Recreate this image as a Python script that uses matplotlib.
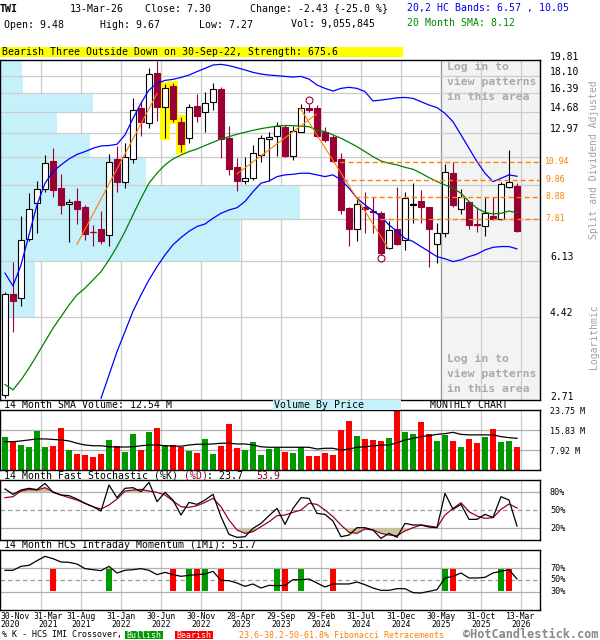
import numpy as np
import matplotlib
matplotlib.use("Agg")
import matplotlib.pyplot as plt
from matplotlib import transforms
from matplotlib.patches import Rectangle

plt.rcParams["font.family"] = ["DejaVu Sans Mono"]

# ---------------- monthly OHLC (Nov 2020 .. Mar 2026) ----------------
opens = [2.79, 5.06, 4.92, 6.95, 8.59, 9.31, 10.99, 9.37, 8.53, 8.70,
         8.40, 7.27, 7.36, 7.13, 11.13, 9.74, 11.10, 14.96, 13.75, 18.42,
         15.05, 17.06, 13.83, 12.55, 15.17, 14.61, 15.49, 16.74, 12.55, 10.59,
         9.79, 9.93, 11.38, 12.48, 12.74, 13.43, 11.31, 13.05, 14.96, 15.02,
         13.00, 12.67, 11.10, 8.36, 7.37, 8.41, 8.21, 8.11, 6.62, 7.39,
         6.93, 8.50, 8.67, 8.38, 6.75, 7.23, 10.23, 8.28, 8.62, 7.59,
         7.50, 7.97, 7.83, 9.46, 9.48]
highs = [5.10, 6.10, 7.95, 9.10, 9.80, 11.38, 11.84, 10.17, 8.81, 9.37,
         8.50, 7.56, 8.21, 11.47, 12.03, 12.22, 15.93, 15.64, 18.90, 19.73,
         17.20, 17.30, 14.25, 15.31, 16.24, 16.50, 17.30, 16.94, 13.50, 11.16,
         11.27, 12.07, 12.80, 13.00, 13.83, 13.56, 13.50, 15.31, 15.30, 15.25,
         13.43, 12.80, 11.49, 8.41, 8.84, 9.14, 8.88, 8.18, 7.74, 9.43,
         9.16, 9.64, 9.27, 8.41, 7.64, 10.80, 10.95, 9.31, 8.67, 8.41,
         8.88, 8.92, 9.74, 11.72, 9.67]
lows = [2.74, 4.05, 4.69, 6.90, 7.20, 9.18, 8.92, 8.05, 6.86, 7.59,
        6.93, 6.70, 6.76, 6.70, 9.18, 9.40, 10.84, 12.74, 13.30, 13.89,
        12.60, 13.83, 11.56, 12.19, 13.83, 13.05, 14.81, 11.16, 10.13, 9.22,
        9.60, 9.84, 10.91, 9.77, 11.34, 11.22, 11.07, 13.00, 14.60, 12.67,
        12.26, 10.95, 8.05, 6.70, 6.90, 7.23, 7.23, 6.34, 6.57, 6.74,
        6.51, 7.64, 7.64, 5.92, 6.04, 7.06, 8.41, 8.06, 7.37, 7.27,
        7.09, 7.79, 7.79, 9.40, 7.27]
closes = [5.04, 4.85, 6.91, 8.28, 9.31, 10.84, 9.27, 8.47, 8.64, 8.30,
          7.17, 7.26, 6.90, 10.95, 9.74, 11.24, 14.81, 13.83, 18.24, 15.11,
          16.87, 14.06, 12.15, 15.05, 14.32, 15.39, 16.74, 12.48, 10.49, 9.77,
          9.93, 11.49, 12.55, 12.62, 13.48, 11.34, 13.10, 14.96, 14.81, 12.72,
          12.44, 10.99, 8.25, 7.39, 8.53, 8.30, 8.13, 6.40, 7.35, 6.76,
          8.84, 8.53, 8.41, 7.37, 7.23, 10.29, 8.47, 8.88, 7.56, 7.56,
          8.09, 7.83, 9.60, 9.73, 7.30]

# 20-month SMA and 20,2 HC bands
sma20 = [2.97, 2.88, 3.05, 3.27, 3.53, 3.82, 4.13, 4.42, 4.73, 5.02,
         5.22, 5.48, 5.75, 6.16, 6.66, 7.27, 8.02, 8.83, 9.65, 10.23,
         10.74, 11.12, 11.38, 11.61, 11.79, 12.03, 12.26, 12.50, 12.67, 12.85,
         13.00, 13.15, 13.28, 13.38, 13.48, 13.53, 13.51, 13.48, 13.43, 13.17,
         13.05, 12.80, 12.55, 12.26, 11.95, 11.61, 11.27, 10.99, 10.84, 10.74,
         10.59, 10.47, 10.23, 9.97, 9.74, 9.55, 9.37, 9.10, 8.67, 8.33,
         8.14, 8.06, 8.09, 8.20, 8.12]
band_upper = [5.70, 5.29, 5.98, 7.13, 8.50, 9.65, 10.33, 10.74, 11.12, 11.42,
              11.61, 11.84, 12.00, 12.03, 12.12, 12.80, 14.10, 15.41, 16.65, 17.30,
              17.61, 17.72, 17.92, 18.17, 18.54, 18.90, 19.27, 19.35, 19.20, 18.97,
              18.72, 18.46, 18.28, 18.17, 18.10, 18.03, 17.96, 18.03, 17.75, 17.14,
              16.81, 16.55, 16.81, 16.91, 16.81, 16.49, 15.61, 15.70, 15.79, 15.91,
              15.94, 15.85, 15.55, 15.25, 15.02, 14.52, 13.83, 12.80, 11.84, 10.95,
              10.23, 9.74, 9.93, 10.13, 10.05]
band_lower = [None] * 12 + [
              2.74, 3.14, 3.60, 4.05, 4.56, 5.02, 5.48, 5.92,
              6.34, 6.73, 7.02, 7.28, 7.49, 7.60, 7.86, 8.09, 8.25, 8.36,
              8.67, 9.18, 9.65, 9.77, 10.03, 10.13, 10.17, 10.23, 10.23, 10.13,
              10.03, 10.13, 9.84, 9.37, 8.84, 8.50, 8.21, 7.94, 7.56, 7.28,
              6.99, 6.86, 6.66, 6.47, 6.28, 6.20, 6.10, 6.16, 6.28, 6.37,
              6.53, 6.63, 6.66, 6.66, 6.57]

# monthly volume (millions) and its 14-month SMA
volume_m = [13.2, 11.2, 9.9, 9.1, 15.6, 9.1, 9.5, 16.8, 7.9, 6.3,
            5.9, 5.1, 6.3, 11.9, 9.5, 7.1, 14.3, 7.9, 15.0, 16.6,
            9.9, 9.9, 9.2, 7.5, 6.7, 12.3, 6.3, 9.5, 18.2, 8.7,
            7.9, 11.1, 5.9, 8.3, 8.7, 7.1, 6.7, 9.0, 5.5, 5.5,
            6.7, 5.9, 15.8, 19.4, 13.5, 12.3, 11.9, 11.5, 12.7, 23.5,
            15.0, 14.3, 19.0, 14.3, 11.5, 13.9, 11.5, 9.1, 12.3, 10.7,
            13.1, 16.2, 11.1, 11.5, 9.055845]
volume_sma_m = [11.2, 11.2, 11.5, 11.9, 12.3, 12.3, 12.1, 11.9, 11.5, 10.6,
                9.9, 9.6, 9.6, 9.2, 9.1, 9.1, 9.2, 9.6, 9.9, 9.9,
                9.6, 9.5, 9.4, 9.9, 10.2, 10.2, 10.3, 10.6, 10.6, 10.3,
                10.3, 9.9, 9.2, 9.0, 9.0, 9.0, 9.0, 9.0, 9.0, 8.3,
                8.6, 8.6, 7.9, 8.3, 9.0, 9.2, 9.5, 9.9, 9.9, 10.8,
                11.9, 12.5, 13.2, 13.6, 14.1, 14.4, 14.9, 14.1, 13.9, 13.9,
                13.9, 13.9, 13.2, 12.8, 12.54]

# 14-month fast stochastic
stoch_k = [85.5, 76.6, 83.8, 86.6, 84.4, 94.9, 79.9, 75.5, 74.4, 68.8,
           61.6, 56.0, 48.8, 92.1, 71.0, 86.6, 87.7, 81.0, 96.6, 64.4,
           79.9, 67.1, 42.1, 63.2, 59.9, 67.1, 76.6, 39.4, 9.9, 4.9,
           6.0, 19.9, 28.2, 41.0, 53.2, 26.6, 53.2, 71.0, 69.9, 44.9,
           43.2, 32.1, 6.0, 8.8, 21.0, 21.0, 17.1, 3.2, 11.6, 4.9,
           28.2, 25.5, 25.5, 22.1, 21.0, 78.2, 51.6, 59.9, 34.9, 34.9,
           43.2, 38.2, 72.7, 67.1, 23.7]
stoch_d = [71.0, 72.7, 82.1, 84.9, 83.8, 87.7, 81.0, 75.5, 71.0, 67.1,
           61.6, 56.0, 52.1, 58.8, 68.8, 82.1, 83.8, 84.9, 82.1, 79.9,
           75.5, 65.5, 56.0, 54.9, 57.7, 63.2, 69.9, 56.0, 33.8, 17.1,
           11.6, 14.4, 22.7, 31.0, 41.0, 42.1, 46.6, 50.5, 61.6, 59.9,
           50.5, 39.4, 25.5, 13.2, 11.6, 18.8, 17.1, 11.6, 8.8, 7.7,
           15.5, 21.0, 25.5, 23.8, 21.6, 42.1, 53.2, 62.7, 47.7, 40.5,
           36.6, 37.7, 51.6, 60.5, 53.9]

# 14-month HCS intraday momentum
imi = [66.3, 66.3, 73.0, 74.7, 82.5, 89.8, 85.9, 80.3, 79.7, 76.9,
       69.1, 67.4, 65.7, 73.0, 61.8, 66.3, 67.4, 69.1, 66.3, 59.0,
       62.9, 59.0, 56.2, 57.9, 59.0, 60.1, 64.6, 49.4, 48.9, 44.9,
       39.3, 43.3, 36.5, 41.0, 40.5, 41.0, 50.6, 50.6, 51.7, 44.9,
       38.2, 43.3, 43.3, 43.3, 46.6, 42.1, 36.5, 32.6, 32.6, 35.4,
       35.4, 28.7, 28.1, 30.9, 33.7, 53.4, 56.2, 61.8, 53.4, 53.4,
       54.5, 61.8, 64.6, 67.4, 51.7]
bullish_cross = [13, 23, 25, 34, 37, 55, 62]
bearish_cross = [6, 21, 24, 27, 35, 41, 56, 63]
cross_band = (32, 68)

# price grid, volume-by-price (millions per price band, top band first)
price_levels = [19.81, 18.10, 16.39, 14.68, 12.97, 11.26, 9.55, 7.84, 6.13, 4.42, 2.71]
price_labels = [19.81, 18.10, 16.39, 14.68, 12.97, 6.13, 4.42, 2.71]
vbp_volume_m = [11.0, 11.5, 46.5, 28.5, 45.0, 73.0, 150.0, 120.0, 17.5, 0.0]

# Fibonacci retracements and trend lines
fib_levels = [10.94, 9.86, 8.88, 7.81]
fib_start_month = [41.9, 42.3, 43.8, 46.9]
trend_lines = [([9.0, 19.0], [6.75, 16.3]),
               ([29.0, 38.9], [10.19, 14.44]),
               ([36.9, 47.9], [14.96, 6.60])]
pivot_high = (38, 15.30)
pivot_low = (47, 6.34)
pattern_months = [20, 21, 22]
pattern_text = "Bearish Three Outside Down on 30-Sep-22, Strength: 675.6"

# date axis
label_months = [0, 4, 9, 14, 19, 24, 29, 34, 39, 44, 49, 54, 59, 64]
date_top = ["30-Nov", "31-Mar", "31-Aug", "31-Jan", "30-Jun", "30-Nov", "28-Apr",
            "29-Sep", "29-Feb", "31-Jul", "31-Dec", "30-May", "31-Oct", "13-Mar"]
date_bottom = ["2020", "2021", "2021", "2022", "2022", "2022", "2023",
               "2023", "2024", "2024", "2024", "2025", "2025", "2026"]
vol_ticks = [7.92, 15.83, 23.75]

# ---------------- layout helpers ----------------
W, H = 600, 640
MONTH_END = 0.46
XLIM = (-0.625, 66.875)
VBP_REACH = 300 / 540
FS = 7.1
RED = "#990033"
GRID = "#cccccc"
HGRID = "#b0b0b0"

o = np.array(opens); h = np.array(highs); l = np.array(lows); c = np.array(closes)
months = np.arange(len(c))
lower = np.array(band_lower, dtype=float)
grid_x = [m + MONTH_END for m in label_months[1:]]

fig = plt.figure(figsize=(W / 100, H / 100), dpi=100)


def rect_px(top, bottom, left=0, right=540):
    return [left / W, 1 - bottom / H, (right - left) / W, (bottom - top) / H]


def ftext(x, y, s, **kw):
    kw.setdefault("va", "center")
    kw.setdefault("ha", "left")
    kw.setdefault("fontsize", FS)
    return fig.text(x / W, 1 - y / H, s, **kw)


def clean(a):
    a.set_xticks([]); a.set_yticks([])
    a.tick_params(which="both", left=False, bottom=False, labelleft=False, labelbottom=False)
    for sp in a.spines.values():
        sp.set_color("black"); sp.set_linewidth(1.0)


def side_labels(a, values, texts, x_px, dy_px, **kw):
    tr = transforms.blended_transform_factory(fig.transFigure, a.transData)
    tr = transforms.offset_copy(tr, fig=fig, x=0, y=dy_px, units="dots")
    for v, t in zip(values, texts):
        a.text(x_px / W, v, t, transform=tr, va="center", ha="left", clip_on=False, **kw)


# ---------------- header ----------------
chg = c[-1] - c[-2]
ftext(0, 9.3, "TWI", fontweight="bold")
ftext(70, 9.3, "13-Mar-26")
ftext(145, 9.3, f"Close: {c[-1]:.2f}")
ftext(250, 9.3, f"Change: {chg:.2f} {{{100 * chg / c[-2]:.1f} %}}")
ftext(407, 8.0, f"20,2 HC Bands: {lower[-1]:.2f} , {band_upper[-1]:.2f}", color="#0000ee")
ftext(4, 24.5, f"Open: {o[-1]:.2f}")
ftext(100, 24.5, f"High: {h[-1]:.2f}")
ftext(199, 24.5, f"Low: {l[-1]:.2f}")
ftext(291, 24.5, f"Vol: {int(round(volume_m[-1] * 1e6)):,}")
ftext(407, 23.5, f"20 Month SMA: {sma20[-1]:.2f}", color="#008800")
fig.add_artist(Rectangle((0, 1 - 57 / H), 403 / W, 10.5 / H, transform=fig.transFigure,
                         color="#ffff00", lw=0))
ftext(2, 52.2, pattern_text)

# ---------------- main price panel ----------------
main_rect = rect_px(60.3, 400.2)
back = fig.add_axes(main_rect)
back.set_axis_off()
back.set_xlim(XLIM); back.set_yscale("log"); back.set_ylim(price_levels[-1], price_levels[0])
back.axvspan(grid_x[10], XLIM[1], color="#f3f3f3", lw=0)
for gx in grid_x:
    back.axvline(gx, color=GRID, lw=0.9)
back.axvline(grid_x[10], color="#999999", lw=0.9)

vbp = fig.add_axes(main_rect)
vbp.set_axis_off()
vbp.set_yscale("log"); vbp.set_ylim(price_levels[-1], price_levels[0])
vbp.set_xlim(0, max(vbp_volume_m) / VBP_REACH)
band_lo = np.array(price_levels[1:]); band_hi = np.array(price_levels[:-1])
vbp.barh(band_lo, vbp_volume_m, height=band_hi - band_lo, align="edge",
         color="#c6f1fa", lw=0)
for lv in price_levels[1:-1]:
    vbp.axhline(lv, color=GRID, lw=0.9)

ax = fig.add_axes(main_rect)
ax.patch.set_alpha(0)
ax.set_xlim(XLIM); ax.set_yscale("log"); ax.set_ylim(price_levels[-1], price_levels[0])
clean(ax)
ax.yaxis.set_minor_locator(matplotlib.ticker.NullLocator())

# pattern highlight
pm = np.array(pattern_months)
ax.bar(pm, h[pm] * 1.012 - l[pm] / 1.012, bottom=l[pm] / 1.012, width=1.34,
       color="#ffff00", lw=0, zorder=1)

up = c >= o
wick_col = np.where(up, "black", RED)
ax.vlines(months, l, h, colors=wick_col, lw=0.8, zorder=2)
ax.bar(months, np.abs(c - o), bottom=np.minimum(o, c), width=0.66,
       color=np.where(up, "white", RED), edgecolor=np.where(up, "black", RED),
       lw=0.8, zorder=3)
doji = np.abs(c - o) / o < 0.01
ax.hlines(c[doji], months[doji] - 0.33, months[doji] + 0.33,
          colors=wick_col[doji], lw=0.9, zorder=3)

ax.plot(months, band_upper, color="#0000ff", lw=0.9, zorder=4)
ax.plot(months, lower, color="#0000ff", lw=0.9, zorder=4)
ax.plot(months, sma20, color="#008000", lw=0.9, zorder=4)

for xs, ys in trend_lines:
    ax.plot(xs, ys, color="#ff7f00", lw=0.8, zorder=4)
ax.hlines(fib_levels, fib_start_month, XLIM[1], colors="#ff8000", lw=1.0,
          linestyles=(0, (3.6, 2.2)), zorder=4)
ax.plot(*pivot_high, "o", ms=5, mfc="none", mec=RED, mew=0.8, zorder=5,
        transform=transforms.offset_copy(ax.transData, fig=fig, y=4, units="dots"))
ax.plot(*pivot_low, "o", ms=5, mfc="none", mec=RED, mew=0.8, zorder=5,
        transform=transforms.offset_copy(ax.transData, fig=fig, y=-3, units="dots"))

side_labels(ax, price_labels, [f"{v:.2f}" for v in price_labels], 550, 3.5, fontsize=7.05)
side_labels(ax, fib_levels, [f"{v:.2f}" for v in fib_levels], 545, 0.5,
            fontsize=5.85, color="#ff8000")

for i, s in enumerate(["Log in to", "view patterns", "in this area"]):
    ftext(446.7, 67.3 + 15 * i, s, fontsize=8.25, fontweight="bold", color="#aaaaaa")
    ftext(446.7, 359 + 15 * i, s, fontsize=8.25, fontweight="bold", color="#aaaaaa")

ftext(594, 160, "Split and Dividend Adjusted", rotation=90, ha="center",
      color="#a0a0a0", fontsize=7.05)
ftext(594, 337, "Logarithmic", rotation=90, ha="center", color="#a0a0a0", fontsize=7.05)

# ---------------- volume panel ----------------
ftext(4, 405.3, f"14 Month SMA Volume: {volume_sma_m[-1]:.2f} M")
fig.add_artist(Rectangle((273 / W, 1 - 410 / H), 127.7 / W, 10 / H,
                         transform=fig.transFigure, color="#c6f1fa", lw=0))
ftext(274, 405.3, "Volume By Price")
ftext(430, 405.3, "MONTHLY CHART")

vax = fig.add_axes(rect_px(410, 470))
vax.set_xlim(XLIM); vax.set_ylim(0, vol_ticks[-1])
clean(vax)
for gx in grid_x:
    vax.axvline(gx, color=GRID, lw=0.9, zorder=0)
for v in vol_ticks[:-1]:
    vax.axhline(v, color=HGRID, lw=0.9, zorder=0)
vax.bar(months, volume_m, width=0.66, color=np.where(up, "#009900", "#ff0000"),
        lw=0, zorder=2)
vax.plot(months, volume_sma_m, color="black", lw=0.9, zorder=3)
side_labels(vax, vol_ticks, [f"{v:.2f} M" for v in vol_ticks], 550, -1.5, fontsize=6.0)

# ---------------- stochastic panel ----------------
ftext(4, 476, "14 Month Fast Stochastic (%K)")
ftext(183.5, 476, "(%D)", color=RED)
ftext(207.3, 476, f": {stoch_k[-1]:.1f}")
ftext(256.7, 476, f"{stoch_d[-1]:.1f}", color=RED)

sax = fig.add_axes(rect_px(480.3, 540.3))
sax.set_xlim(XLIM); sax.set_ylim(0, 100)
clean(sax)
for gx in grid_x:
    sax.axvline(gx, color=GRID, lw=0.9, zorder=0)
sax.axhline(80, color=HGRID, lw=0.9, zorder=0)
sax.axhline(20, color=HGRID, lw=0.9, zorder=0)
sax.axhline(50, color="#999999", lw=0.9, ls=(0, (3.5, 2.5)), zorder=0)
sd = np.array(stoch_d)
sax.fill_between(months, sd, 80, where=sd > 80, interpolate=True, color="#c8c49c", lw=0, zorder=1)
sax.fill_between(months, sd, 20, where=sd < 20, interpolate=True, color="#c8c49c", lw=0, zorder=1)
sax.plot(months, stoch_d, color=RED, lw=0.9, zorder=2)
sax.plot(months, stoch_k, color="black", lw=0.9, zorder=3)
side_labels(sax, [80, 50, 20], ["80%", "50%", "20%"], 550, 0, fontsize=6.1)

# ---------------- IMI panel ----------------
ftext(4, 545.3, f"14 Month HCS Intraday Momentum (IMI): {imi[-1]:.1f}")
iax = fig.add_axes(rect_px(550.3, 609.7))
iax.set_xlim(XLIM); iax.set_ylim(0, 100)
clean(iax)
for gx in grid_x:
    iax.axvline(gx, color=GRID, lw=0.9, zorder=0)
iax.axhline(70, color=HGRID, lw=0.9, zorder=0)
iax.axhline(30, color=HGRID, lw=0.9, zorder=0)
iax.axhline(50, color="#999999", lw=0.9, ls=(0, (3.5, 2.5)), zorder=0)
iax.bar(bullish_cross, cross_band[1] - cross_band[0], bottom=cross_band[0], width=0.71,
        color="#009900", lw=0, zorder=1)
iax.bar(bearish_cross, cross_band[1] - cross_band[0], bottom=cross_band[0], width=0.71,
        color="#ff0000", lw=0, zorder=1)
iax.plot(months, imi, color="black", lw=0.9, zorder=2)
side_labels(iax, [70, 50, 30], ["70%", "50%", "30%"], 550, 0, fontsize=6.1)

# ---------------- date axis ----------------
dtr = transforms.blended_transform_factory(iax.transData, fig.transFigure)
for k, m in enumerate(label_months):
    if k == 0:
        x, ha, tr = XLIM[0], "left", dtr
    elif k == 1:
        x, ha = m + MONTH_END, "center"
        tr = transforms.offset_copy(dtr, fig=fig, x=7, y=0, units="dots")
    else:
        x, ha, tr = m + MONTH_END, "center", dtr
    iax.text(x, 1 - 616.3 / H, date_top[k], transform=tr, ha=ha, va="center",
             fontsize=5.9, clip_on=False)
    iax.text(x, 1 - 624.7 / H, date_bottom[k], transform=tr, ha=ha, va="center",
             fontsize=5.9, clip_on=False)

# ---------------- legend row ----------------
ftext(1.7, 635, "% K - HCS IMI Crossover,", fontsize=6.0)
fig.add_artist(Rectangle((125 / W, 1 - 639.3 / H), 38.3 / W, 8.6 / H,
                         transform=fig.transFigure, color="#009900", lw=0))
ftext(144.2, 635, "Bullish", ha="center", color="white", fontsize=6.0)
fig.add_artist(Rectangle((175 / W, 1 - 639.3 / H), 38.3 / W, 8.6 / H,
                         transform=fig.transFigure, color="#ff0000", lw=0))
ftext(194.2, 635, "Bearish", ha="center", color="white", fontsize=6.0)
ftext(239.3, 635, "23.6-38.2-50-61.8% Fibonacci Retracements", fontsize=6.0, color="#ff8000")
ftext(463, 634.7, "\u00a9HotCandlestick.com", fontsize=8.6, color="#888888", fontweight="bold")

fig.savefig("out.png", dpi=100)
